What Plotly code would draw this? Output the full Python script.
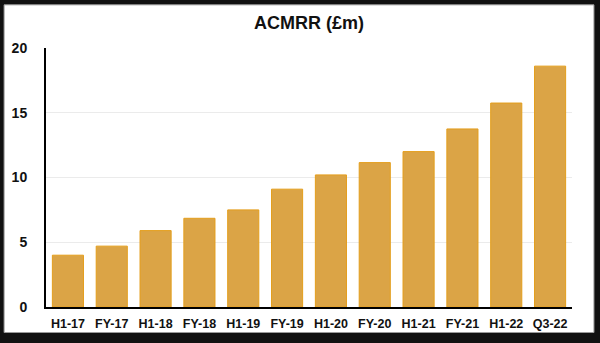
import plotly.graph_objects as go

# ACMRR by reporting period (£m)
periods = ["H1-17", "FY-17", "H1-18", "FY-18", "H1-19", "FY-19",
           "H1-20", "FY-20", "H1-21", "FY-21", "H1-22", "Q3-22"]
acmrr = [4.0, 4.7, 5.9, 6.85, 7.5, 9.1, 10.2, 11.15, 12.0, 13.75, 15.75, 18.6]
y_ticks = [0, 5, 10, 15, 20]

W, H = 600, 343
ML, MR, MT, MB = 45, 28, 48, 31
pw, ph = W - ML - MR, H - MT - MB

fig = go.Figure(go.Bar(
    x=periods, y=acmrr,
    marker=dict(color="rgb(219,164,70)",
                line=dict(color="rgb(228,158,28)", width=1)),
    hoverinfo="x+y",
))

# white card with a dark frame around the whole chart
def px_x(p):
    return (p - ML) / pw

def px_y(p):
    return (H - MB - p) / ph

fig.add_shape(type="rect", xref="paper", yref="paper", layer="below",
              x0=px_x(3), x1=px_x(594), y0=px_y(338), y1=px_y(4),
              fillcolor="white", line=dict(color="#9a9a9a", width=1))

font = "Liberation Sans, Arial, Helvetica, sans-serif"

fig.update_layout(
    width=W, height=H,
    margin=dict(l=ML, r=MR, t=MT, b=MB),
    paper_bgcolor="#111111",
    plot_bgcolor="rgba(0,0,0,0)",
    bargap=0.29,
    showlegend=False,
    title=dict(text="<b>ACMRR (£m)</b>", x=0.5, xref="paper",
               y=1 - 22.5 / H, yref="container", yanchor="middle",
               font=dict(family=font, size=18, color="#111111")),
    font=dict(family=font, size=12, color="#111111"),
    xaxis=dict(
        showline=True, linecolor="black", linewidth=2,
        showgrid=False, ticks="", tickfont=dict(size=12.5, weight="bold"),
        ticklabelstandoff=4,
    ),
    yaxis=dict(
        range=[0, 20], tickvals=y_ticks,
        showline=True, linecolor="black", linewidth=2,
        showgrid=True, gridcolor="#ebebeb", gridwidth=1,
        zeroline=False, ticks="",
        tickfont=dict(size=14, weight="bold"),
        ticklabelstandoff=14,
    ),
)

fig.write_html("out.html")
